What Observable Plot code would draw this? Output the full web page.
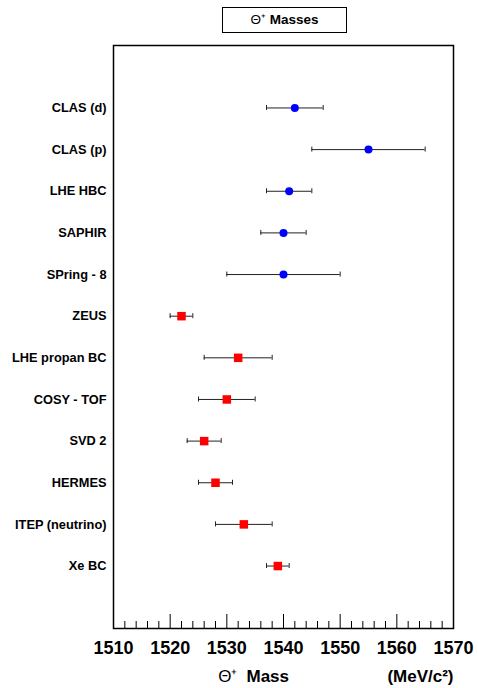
<!DOCTYPE html>
<html>
<head>
<meta charset="utf-8">
<script src="https://cdn.jsdelivr.net/npm/d3@7"></script>
<script src="https://cdn.jsdelivr.net/npm/@observablehq/plot@0.6"></script>
<style>
  html, body { margin: 0; padding: 0; background: #fff; }
  #wrap { position: relative; width: 478px; height: 688px; font-family: "Liberation Sans", Arial, Helvetica, sans-serif; }
  #title { position: absolute; left: 222px; top: 7px; width: 125px; height: 26px; box-sizing: border-box;
           border: 1px solid #000; text-align: center; font-size: 13.5px; line-height: 24px; color: #000; }
  #title b { font-weight: bold; }
  #chart { position: absolute; left: 0; top: 0; }
</style>
</head>
<body>
<div id="wrap">
  <div id="chart"></div>
  <div id="title"><span>Θ⁺</span> <b>Masses</b></div>
</div>
<script>
const experiments = ["CLAS (d)", "CLAS (p)", "LHE HBC", "SAPHIR", "SPring - 8", "ZEUS", "LHE propan BC", "COSY - TOF", "SVD 2", "HERMES", "ITEP (neutrino)", "Xe BC"];
const masses = [1542, 1555, 1541, 1540, 1540, 1522, 1532, 1530, 1526, 1528, 1533, 1539];
const errors = [5, 10, 4, 4, 10, 2, 6, 5, 3, 3, 5, 2];
const markerType = ["circle", "circle", "circle", "circle", "circle", "square", "square", "square", "square", "square", "square", "square"];
const xTicksMajor = [1510, 1520, 1530, 1540, 1550, 1560, 1570];
const xTicksMinor = d3.range(1510, 1571, 2).filter(v => v % 10 !== 0);

const rows = experiments.map((name, i) => ({name, mass: masses[i], err: errors[i], type: markerType[i]}));
const circles = rows.filter(d => d.type === "circle");
const squares = rows.filter(d => d.type === "square");

const font = "Liberation Sans, Arial, Helvetica, sans-serif";
const frameH = 688 - 45 - 60;

const chart = Plot.plot({
  width: 478,
  height: 688,
  marginLeft: 113,
  marginRight: 25,
  marginTop: 45,
  marginBottom: 60,
  style: {fontFamily: font, color: "#000", background: "transparent"},
  x: {domain: [1510, 1570]},
  y: {type: "point", domain: experiments, padding: 1.5, round: false},
  marks: [
    Plot.axisX({ticks: xTicksMajor, tickSize: 0, tickPadding: 13, fontSize: 18, fontWeight: "bold", label: null, tickFormat: d => String(d)}),
    Plot.axisY({tickSize: 0, tickPadding: 7, fontSize: 12.8, fontWeight: "bold", label: null}),
    Plot.ruleX(xTicksMajor, {x: d => d, insetTop: frameH - 14, stroke: "#000", strokeWidth: 1}),
    Plot.ruleX(xTicksMinor, {x: d => d, insetTop: frameH - 7, stroke: "#000", strokeWidth: 1}),
    Plot.ruleY(rows, {y: "name", x1: d => d.mass - d.err, x2: d => d.mass + d.err, stroke: "#222", strokeWidth: 1}),
    Plot.ruleX(rows, {x: d => d.mass - d.err, y1: "name", y2: "name", insetTop: -2.5, insetBottom: -2.5, stroke: "#222", strokeWidth: 1}),
    Plot.ruleX(rows, {x: d => d.mass + d.err, y1: "name", y2: "name", insetTop: -2.5, insetBottom: -2.5, stroke: "#222", strokeWidth: 1}),
    Plot.dot(circles, {x: "mass", y: "name", r: 4, fill: "#0000ff", stroke: null, symbol: "circle"}),
    Plot.dot(squares, {x: "mass", y: "name", r: 4.8, fill: "#ff0000", stroke: null, symbol: "square"}),
    Plot.frame({stroke: "#000", strokeWidth: 1.5}),
    Plot.text(["Θ⁺"], {text: d => d, frameAnchor: "bottom", textAnchor: "end", lineAnchor: "bottom", dx: -46, dy: 53, fontSize: 17, fontWeight: "normal"}),
    Plot.text(["Mass"], {text: d => d, frameAnchor: "bottom", textAnchor: "start", lineAnchor: "bottom", dx: -37, dy: 53, fontSize: 17, fontWeight: "bold"}),
    Plot.text(["(MeV/c²)"], {text: d => d, frameAnchor: "bottom-right", textAnchor: "end", lineAnchor: "bottom", dx: 0, dy: 53, fontSize: 17, fontWeight: "bold"})
  ]
});
document.getElementById("chart").appendChild(chart);
</script>
</body>
</html>
